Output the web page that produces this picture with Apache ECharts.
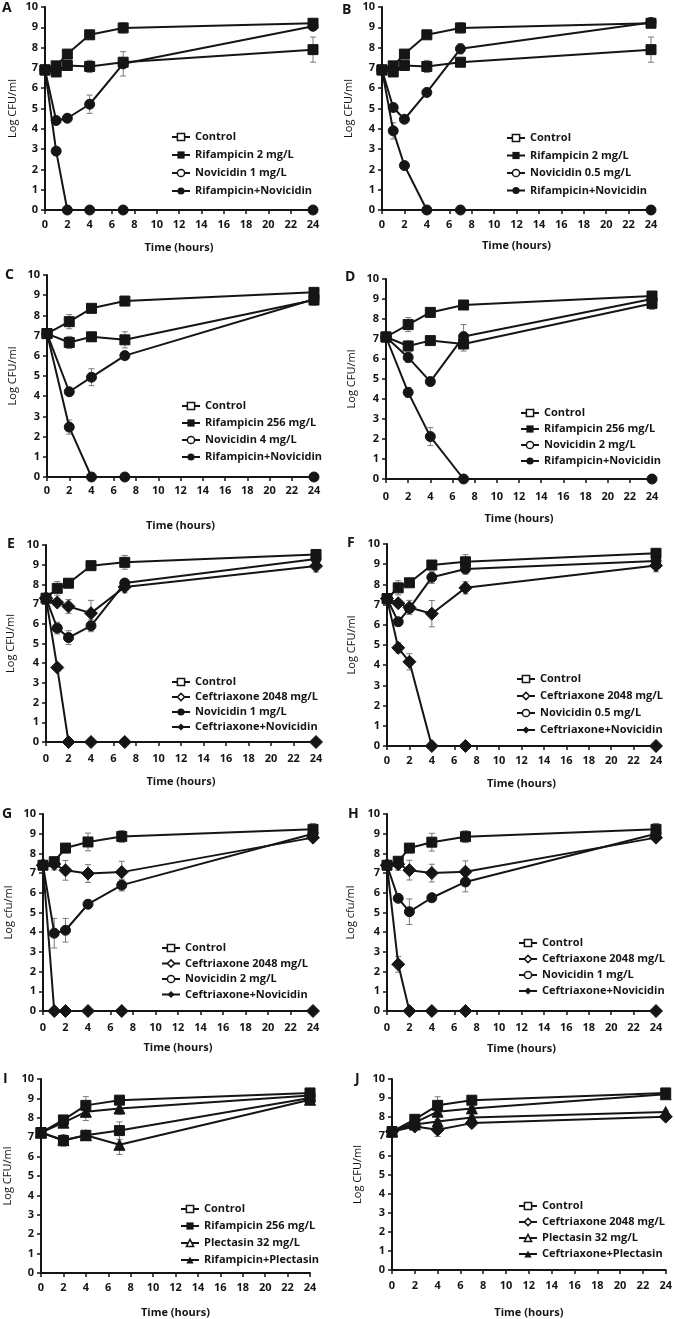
<!DOCTYPE html>
<html><head><meta charset="utf-8">
<script src="https://cdn.jsdelivr.net/npm/echarts@6.0.0/dist/echarts.min.js"></script>
<style>html,body{margin:0;padding:0;background:#fff}#c{width:675px;height:1319px}</style>
</head><body><div id="c"></div><script>
// ---------- DATA ----------
const TIMES_1 = [0, 1, 2, 4, 7, 24];
const TIMES_2 = [0, 2, 4, 7, 24];
const X_TICKS = [0, 2, 4, 6, 8, 10, 12, 14, 16, 18, 20, 22, 24];
const Y_TICKS = [0, 1, 2, 3, 4, 5, 6, 7, 8, 9, 10];

// Panel A
const A_labels = ['Control', 'Rifampicin 2 mg/L', 'Novicidin 1 mg/L', 'Rifampicin+Novicidin'];
const A_control = [6.9, 7.1, 7.68, 8.63, 8.97, 9.2];
const A_rif = [6.9, 6.8, 7.12, 7.07, 7.28, 7.9];
const A_nov = [6.9, 4.41, 4.52, 5.21, 7.2, 9.05];
const A_combo = [6.9, 2.9, 0, 0, 0, 0];
const A_control_sd = [0, 0.1, 0.1, 0.1, 0.25, 0.1];
const A_rif_sd = [0, 0.1, 0.1, 0.3, 0.2, 0.62];
const A_nov_sd = [0, 0.1, 0.1, 0.45, 0.6, 0.1];
const A_combo_sd = [0, 0.1, 0, 0, 0, 0];

// Panel B
const B_labels = ['Control', 'Rifampicin 2 mg/L', 'Novicidin 0.5 mg/L', 'Rifampicin+Novicidin'];
const B_control = [6.9, 7.1, 7.68, 8.63, 8.97, 9.2];
const B_rif = [6.9, 6.8, 7.12, 7.07, 7.28, 7.9];
const B_nov = [6.9, 5.05, 4.47, 5.79, 7.94, 9.24];
const B_combo = [6.9, 3.9, 2.19, 0, 0, 0];
const B_control_sd = [0, 0.1, 0.1, 0.1, 0.25, 0.1];
const B_rif_sd = [0, 0.1, 0.1, 0.3, 0.2, 0.62];
const B_nov_sd = [0, 0.2, 0.15, 0.1, 0.25, 0.1];
const B_combo_sd = [0, 0.4, 0.1, 0, 0, 0];

// Panel C
const C_labels = ['Control', 'Rifampicin 256 mg/L', 'Novicidin 4 mg/L', 'Rifampicin+Novicidin'];
const C_control = [7.1, 7.69, 8.35, 8.71, 9.14];
const C_rif = [7.1, 6.66, 6.94, 6.79, 8.76];
const C_nov = [7.1, 4.22, 4.94, 6.01, 8.8];
const C_combo = [7.1, 2.47, 0, 0, 0];
const C_control_sd = [0, 0.35, 0.1, 0.1, 0.1];
const C_rif_sd = [0, 0.3, 0.2, 0.4, 0.25];
const C_nov_sd = [0, 0.1, 0.42, 0.1, 0.2];
const C_combo_sd = [0, 0.35, 0, 0, 0];

// Panel D
const D_labels = ['Control', 'Rifampicin 256 mg/L', 'Novicidin 2 mg/L', 'Rifampicin+Novicidin'];
const D_control = [7.1, 7.72, 8.33, 8.7, 9.15];
const D_rif = [7.1, 6.65, 6.92, 6.75, 8.78];
const D_nov = [7.1, 6.08, 4.87, 7.12, 9.0];
const D_combo = [7.1, 4.33, 2.12, 0, 0];
const D_control_sd = [0, 0.35, 0.1, 0.1, 0.1];
const D_rif_sd = [0, 0.25, 0.15, 0.35, 0.3];
const D_nov_sd = [0, 0.25, 0.1, 0.6, 0.1];
const D_combo_sd = [0, 0.25, 0.45, 0, 0];

// Panel E
const E_labels = ['Control', 'Ceftriaxone 2048 mg/L', 'Novicidin 1 mg/L', 'Ceftriaxone+Novicidin'];
const E_control = [7.3, 7.8, 8.06, 8.95, 9.12, 9.52];
const E_ceft = [7.3, 7.08, 6.88, 6.54, 7.87, 8.93];
const E_nov = [7.3, 5.78, 5.3, 5.9, 8.07, 9.29];
const E_combo = [7.3, 3.78, 0, 0, 0, 0];
const E_control_sd = [0, 0.35, 0.1, 0.1, 0.35, 0.1];
const E_ceft_sd = [0, 0.15, 0.35, 0.65, 0.3, 0.3];
const E_nov_sd = [0, 0.3, 0.35, 0.3, 0.1, 0.1];
const E_combo_sd = [0, 0.1, 0, 0, 0, 0];

// Panel F
const F_labels = ['Control', 'Ceftriaxone 2048 mg/L', 'Novicidin 0.5 mg/L', 'Ceftriaxone+Novicidin'];
const F_control = [7.3, 7.83, 8.08, 8.96, 9.12, 9.54];
const F_ceft = [7.3, 7.07, 6.86, 6.55, 7.83, 8.93];
const F_nov = [7.3, 6.15, 6.81, 8.35, 8.76, 9.16];
const F_combo = [7.3, 4.86, 4.17, 0, 0, 0];
const F_control_sd = [0, 0.35, 0.1, 0.1, 0.35, 0.15];
const F_ceft_sd = [0, 0.15, 0.35, 0.65, 0.3, 0.3];
const F_nov_sd = [0, 0.2, 0.2, 0.3, 0.25, 0.1];
const F_combo_sd = [0, 0.25, 0.4, 0, 0, 0];

// Panel G
const G_labels = ['Control', 'Ceftriaxone 2048 mg/L', 'Novicidin 2 mg/L', 'Ceftriaxone+Novicidin'];
const G_control = [7.4, 7.58, 8.27, 8.58, 8.86, 9.22];
const G_ceft = [7.4, 7.46, 7.14, 6.98, 7.05, 8.8];
const G_nov = [7.4, 3.95, 4.1, 5.42, 6.39, 9.0];
const G_combo = [7.4, 0, 0, 0, 0, 0];
const G_control_sd = [0, 0.2, 0.15, 0.45, 0.3, 0.3];
const G_ceft_sd = [0, 0.3, 0.5, 0.45, 0.55, 0.1];
const G_nov_sd = [0, 0.75, 0.6, 0.2, 0.3, 0.1];
const G_combo_sd = [0, 0, 0, 0, 0, 0];

// Panel H
const H_labels = ['Control', 'Ceftriaxone 2048 mg/L', 'Novicidin 1 mg/L', 'Ceftriaxone+Novicidin'];
const H_control = [7.4, 7.6, 8.27, 8.57, 8.85, 9.22];
const H_ceft = [7.4, 7.45, 7.15, 7.0, 7.07, 8.8];
const H_nov = [7.4, 5.72, 5.04, 5.75, 6.55, 9.0];
const H_combo = [7.4, 2.37, 0, 0, 0, 0];
const H_control_sd = [0, 0.2, 0.15, 0.45, 0.3, 0.3];
const H_ceft_sd = [0, 0.3, 0.5, 0.45, 0.55, 0.1];
const H_nov_sd = [0, 0.15, 0.65, 0.2, 0.5, 0.1];
const H_combo_sd = [0, 0.4, 0, 0, 0, 0];

// Panel I
const I_labels = ['Control', 'Rifampicin 256 mg/L', 'Plectasin 32 mg/L', 'Rifampicin+Plectasin'];
const I_control = [7.24, 7.89, 8.64, 8.91, 9.28];
const I_rif = [7.24, 6.83, 7.1, 7.34, 9.02];
const I_plect = [7.24, 7.75, 8.31, 8.48, 9.15];
const I_combo = [7.24, 6.85, 7.1, 6.61, 8.93];
const I_control_sd = [0, 0.2, 0.45, 0.2, 0.1];
const I_rif_sd = [0, 0.3, 0.15, 0.45, 0.1];
const I_plect_sd = [0, 0.1, 0.45, 0.3, 0.1];
const I_combo_sd = [0, 0.1, 0.1, 0.5, 0.1];

// Panel J
const J_labels = ['Control', 'Ceftriaxone 2048 mg/L', 'Plectasin 32 mg/L', 'Ceftriaxone+Plectasin'];
const J_control = [7.25, 7.89, 8.62, 8.89, 9.27];
const J_ceft = [7.25, 7.51, 7.34, 7.69, 8.03];
const J_plect = [7.25, 7.72, 8.29, 8.46, 9.2];
const J_combo = [7.25, 7.62, 7.77, 7.98, 8.27];
const J_control_sd = [0, 0.15, 0.45, 0.2, 0.1];
const J_ceft_sd = [0, 0.15, 0.35, 0.15, 0.1];
const J_plect_sd = [0, 0.1, 0.2, 0.1, 0.1];
const J_combo_sd = [0, 0.1, 0.1, 0.1, 0.1];

// ---------- LAYOUT / STYLE ----------
const FONT = 'Open Sans';
const INK = '#151515';
const MARKS = {
  sqH: {symbol: 'rect', hollow: true, size: 10}, sqF: {symbol: 'rect', size: 10},
  ciH: {symbol: 'circle', hollow: true, size: 10}, ciF: {symbol: 'circle', size: 10},
  diH: {symbol: 'diamond', hollow: true, size: 13}, diF: {symbol: 'diamond', size: 13},
  trH: {symbol: 'triangle', hollow: true, size: 11}, trF: {symbol: 'triangle', size: 11}
};

const panels = [
  {letter: 'A', lp: [2, 8], box: [45, 7, 268, 203], t: TIMES_1, yName: 'Log CFU/ml', yGap: 27, xGap: 32, xm: 9, lg: [171, 130, 4],
   s: [[A_labels[0], A_control, A_control_sd, 'sqH'], [A_labels[1], A_rif, A_rif_sd, 'sqF'], [A_labels[2], A_nov, A_nov_sd, 'ciH'], [A_labels[3], A_combo, A_combo_sd, 'ciF']]},
  {letter: 'B', lp: [342, 10], box: [382, 7, 269, 203], t: TIMES_1, yName: 'Log CFU/ml', yGap: 28, xGap: 30, xm: 9, lg: [506, 131, 3.5],
   s: [[B_labels[0], B_control, B_control_sd, 'sqH'], [B_labels[1], B_rif, B_rif_sd, 'sqF'], [B_labels[2], B_nov, B_nov_sd, 'ciH'], [B_labels[3], B_combo, B_combo_sd, 'ciF']]},
  {letter: 'C', lp: [5, 275], box: [47, 275, 267, 202], t: TIMES_2, yName: 'Log CFU/ml', yGap: 29, xGap: 43, xm: 8, lg: [181, 399, 3],
   s: [[C_labels[0], C_control, C_control_sd, 'sqH'], [C_labels[1], C_rif, C_rif_sd, 'sqF'], [C_labels[2], C_nov, C_nov_sd, 'ciH'], [C_labels[3], C_combo, C_combo_sd, 'ciF']]},
  {letter: 'D', lp: [345, 277], box: [386, 279, 266, 200], t: TIMES_2, yName: 'Log CFU/ml', yGap: 29, xGap: 34, xm: 12, lg: [520, 406, 2],
   s: [[D_labels[0], D_control, D_control_sd, 'sqH'], [D_labels[1], D_rif, D_rif_sd, 'sqF'], [D_labels[2], D_nov, D_nov_sd, 'ciH'], [D_labels[3], D_combo, D_combo_sd, 'ciF']]},
  {letter: 'E', lp: [7, 544], box: [46, 545, 270, 197], t: TIMES_1, yName: 'Log CFU/ml', yGap: 30, xGap: 34, xm: 11, lg: [171, 675, 1],
   s: [[E_labels[0], E_control, E_control_sd, 'sqH'], [E_labels[1], E_ceft, E_ceft_sd, 'diH'], [E_labels[2], E_nov, E_nov_sd, 'ciF'], [E_labels[3], E_combo, E_combo_sd, 'diF']]},
  {letter: 'F', lp: [347, 543], box: [387, 544, 269, 202], t: TIMES_1, yName: 'Log CFU/ml', yGap: 30, xGap: 32, xm: 9, lg: [516, 672, 3],
   s: [[F_labels[0], F_control, F_control_sd, 'sqH'], [F_labels[1], F_ceft, F_ceft_sd, 'diH'], [F_labels[2], F_nov, F_nov_sd, 'ciH'], [F_labels[3], F_combo, F_combo_sd, 'diF']]},
  {letter: 'G', lp: [2, 814], box: [43, 814, 270, 197], t: TIMES_1, yName: 'Log cfu/ml', yGap: 29, xGap: 31, xm: 11, lg: [161, 941, 1.5],
   s: [[G_labels[0], G_control, G_control_sd, 'sqH'], [G_labels[1], G_ceft, G_ceft_sd, 'diH'], [G_labels[2], G_nov, G_nov_sd, 'ciH'], [G_labels[3], G_combo, G_combo_sd, 'diF']]},
  {letter: 'H', lp: [348, 814], box: [387, 814, 269, 197], t: TIMES_1, yName: 'Log cfu/ml', yGap: 31, xGap: 32, xm: 11, lg: [518, 936, 2],
   s: [[H_labels[0], H_control, H_control_sd, 'sqH'], [H_labels[1], H_ceft, H_ceft_sd, 'diH'], [H_labels[2], H_nov, H_nov_sd, 'ciH'], [H_labels[3], H_combo, H_combo_sd, 'diF']]},
  {letter: 'I', lp: [3, 1079], box: [41, 1079, 269, 196], t: TIMES_2, yName: 'Log CFU/ml', yGap: 28, xGap: 34, xm: 9, lg: [180, 1202, 3],
   s: [[I_labels[0], I_control, I_control_sd, 'sqH'], [I_labels[1], I_rif, I_rif_sd, 'sqF'], [I_labels[2], I_plect, I_plect_sd, 'trH'], [I_labels[3], I_combo, I_combo_sd, 'trF']]},
  {letter: 'J', lp: [355, 1079], box: [392, 1079, 276, 193], t: TIMES_2, yName: 'Log CFU/ml', yGap: 29, xGap: 37, xm: 10, lg: [518, 1199, 2],
   s: [[J_labels[0], J_control, J_control_sd, 'sqH'], [J_labels[1], J_ceft, J_ceft_sd, 'diH'], [J_labels[2], J_plect, J_plect_sd, 'trH'], [J_labels[3], J_combo, J_combo_sd, 'trF']]}
];

const chart = echarts.init(document.getElementById('c'), null, {renderer: 'canvas'});
const option = {animation: false, backgroundColor: '#fff', grid: [], xAxis: [], yAxis: [], series: [], legend: [], graphic: []};

const txt = {fontFamily: FONT, color: INK};

panels.forEach((p, i) => {
  option.grid.push({left: p.box[0], top: p.box[1], width: p.box[2], height: p.box[3]});
  option.xAxis.push({
    type: 'value', gridIndex: i, min: X_TICKS[0], max: X_TICKS[X_TICKS.length - 1], interval: X_TICKS[1] - X_TICKS[0],
    name: 'Time (hours)', nameLocation: 'middle', nameGap: p.xGap,
    nameTextStyle: Object.assign({fontSize: 11, fontWeight: 'bold'}, txt),
    axisLine: {onZero: false, lineStyle: {color: INK, width: 2}},
    axisTick: {length: 4, lineStyle: {color: INK, width: 1.5}},
    axisLabel: Object.assign({margin: p.xm, fontSize: 11, fontWeight: 'bold'}, txt),
    splitLine: {show: false}
  });
  option.yAxis.push({
    type: 'value', gridIndex: i, min: Y_TICKS[0], max: Y_TICKS[Y_TICKS.length - 1], interval: Y_TICKS[1] - Y_TICKS[0],
    name: p.yName, nameLocation: 'middle', nameGap: p.yGap, nameRotate: 90,
    nameTextStyle: Object.assign({fontSize: 11}, txt),
    axisLine: {show: true, onZero: false, lineStyle: {color: INK, width: 2}},
    axisTick: {show: true, length: 4, lineStyle: {color: INK, width: 1.5}},
    axisLabel: Object.assign({margin: 7, fontSize: 11, fontWeight: 'bold'}, txt),
    splitLine: {show: false}
  });
  // error bars
  const err = [];
  p.s.forEach(s => s[1].forEach((v, k) => { if (s[2][k] > 0) err.push([p.t[k], v, s[2][k]]); }));
  option.series.push({
    type: 'custom', xAxisIndex: i, yAxisIndex: i, data: err, z: 1, silent: true,
    renderItem: (params, api) => {
      const x = api.value(0), y = api.value(1), e = api.value(2);
      const top = api.coord([x, y + e]);
      const bot = api.coord([x, Math.max(0, y - e)]);
      const cw = 3;
      const ls = {stroke: '#7a7a7a', lineWidth: 1};
      return {type: 'group', children: [
        {type: 'line', shape: {x1: top[0], y1: top[1], x2: bot[0], y2: bot[1]}, style: ls},
        {type: 'line', shape: {x1: top[0] - cw, y1: top[1], x2: top[0] + cw, y2: top[1]}, style: ls},
        {type: 'line', shape: {x1: bot[0] - cw, y1: bot[1], x2: bot[0] + cw, y2: bot[1]}, style: ls}
      ]};
    }
  });
  p.s.forEach(s => {
    const m = MARKS[s[3]];
    option.series.push({
      type: 'line', name: s[0], xAxisIndex: i, yAxisIndex: i,
      data: s[1].map((v, k) => [p.t[k], v]),
      symbol: m.symbol, symbolSize: m.size, showAllSymbol: true, z: 3,
      lineStyle: {color: INK, width: 2},
      itemStyle: {color: INK, borderColor: INK, borderWidth: 1}
    });
  });
  option.legend.push({
    orient: 'vertical', left: p.lg[0], top: p.lg[1], itemGap: p.lg[2], padding: 0,
    itemWidth: 18, itemHeight: 9, selectedMode: false,
    textStyle: Object.assign({fontSize: 11, fontWeight: 'bold', lineHeight: 14}, txt),
    data: p.s.map(s => ({
      name: s[0],
      itemStyle: MARKS[s[3]].hollow ? {color: '#fff', borderColor: INK, borderWidth: 1.5} : {color: INK, borderColor: INK, borderWidth: 0}
    }))
  });
  option.graphic.push({
    type: 'text', x: p.lp[0], y: p.lp[1],
    style: {text: p.letter, font: 'bold 14px ' + FONT, fill: INK, verticalAlign: 'middle'}
  });
});

chart.setOption(option);
</script></body></html>
